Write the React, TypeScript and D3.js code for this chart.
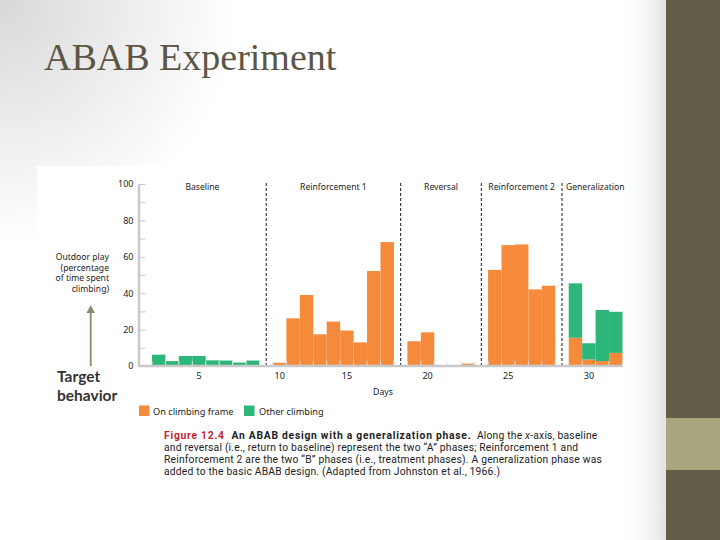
import React, { useEffect, useRef } from "react";
import * as d3 from "d3";

// --- Data, one value per day 1..32
const phaseNames = ["Baseline", "Reinforcement 1", "Reversal", "Reinforcement 2", "Generalization"];
const phaseStartDay = [1, 10, 19, 24, 29];
const onClimbingFrame = [
  0, 0, 0, 0, 0, 0, 0, 0, 0,
  1.8, 26.2, 39, 17.4, 24.4, 19.5, 13, 52.2, 68.1,
  13.6, 18.5, 0, 0, 1.3,
  52.8, 66.4, 66.8, 42.1, 44.1,
  15.5, 3.6, 2.7, 7.2,
];
const otherClimbing = [
  0, 6.2, 2.7, 5.5, 5.5, 3.1, 3, 1.9, 3,
  0, 0, 0, 0, 0, 0, 0, 0, 0,
  0, 0, 0, 0, 0,
  0, 0, 0, 0, 0,
  29.9, 8.9, 28.1, 22.6,
];
const dayTickLabels = [5, 10, 15, 20, 25, 30];
const yTicks = [0, 10, 20, 30, 40, 50, 60, 70, 80, 90, 100];
const yTickLabels = [0, 20, 40, 60, 80, 100];
const yLabelLines = ["Outdoor play", "(percentage", "of time spent", "climbing)"];
const captionLines = [
  "and reversal (i.e., return to baseline) represent the two \u201cA\u201d phases; Reinforcement 1 and",
  "Reinforcement 2 are the two \u201cB\u201d phases (i.e., treatment phases). A generalization phase was",
  "added to the basic ABAB design. (Adapted from Johnston et al., 1966.)",
];

const ORANGE = "#f58a3b";
const GREEN = "#2db67a";
const AXIS = "#c9c9c9";
const FONT = "'Noto Sans', 'Open Sans', sans-serif";
const CAPTION_FONT = "Roboto, 'Noto Sans', sans-serif";

const phaseOf = (day: number) => {
  let p = 0;
  phaseStartDay.forEach((s, i) => {
    if (day >= s) p = i;
  });
  return p;
};
// one empty slot is left between phases
const slotOf = (day: number) => day + phaseOf(day);

const App: React.FC = () => {
  const yAxisRef = useRef<SVGGElement | null>(null);

  const days = onClimbingFrame.map((_, i) => i + 1);
  const lastSlot = slotOf(days[days.length - 1]);

  const x = d3.scaleLinear().domain([0.5, lastSlot + 0.5]).range([138.5, 622.5]);
  const y = d3.scaleLinear().domain([0, 100]).range([366, 184]);
  const bw = x(1) - x(0);

  const boundaries = phaseStartDay.slice(1).map((d, i) => x(d + i));
  const edges = [x.range()[0], ...boundaries, x.range()[1]];

  const dayEdges = Array.from(
    new Set(days.flatMap((d) => [slotOf(d) - 0.5, slotOf(d) + 0.5]))
  );

  useEffect(() => {
    if (!yAxisRef.current) return;
    const g = d3.select(yAxisRef.current);
    g.selectAll("*").remove();
    g.call(
      d3
        .axisLeft(y)
        .tickValues(yTicks)
        .tickSizeInner(-7)
        .tickSizeOuter(0)
        .tickPadding(5)
        .tickFormat((d) => (yTickLabels.includes(d as number) ? String(d) : ""))
    );
    g.select(".domain").attr("stroke", AXIS).attr("stroke-width", 2.5);
    g.selectAll(".tick line").attr("stroke", AXIS).attr("stroke-width", 1);
    g.selectAll(".tick text")
      .attr("font-family", FONT)
      .attr("font-size", 9)
      .attr("fill", "#222");
  }, []);

  return (
    <svg
      width={720}
      height={540}
      style={{ position: "absolute", left: 0, top: 0 }}
    >
      <defs>
        <radialGradient id="bg" cx="0" cy="0" r="1" gradientUnits="objectBoundingBox"
          gradientTransform="scale(0.55,0.75)">
          <stop offset="0" stopColor="#d8d8d8" />
          <stop offset="0.6" stopColor="#ffffff" />
        </radialGradient>
        <linearGradient id="edge" x1="0" x2="1" y1="0" y2="0">
          <stop offset="0" stopColor="#ffffff" stopOpacity="0" />
          <stop offset="1" stopColor="#e2e2e2" />
        </linearGradient>
      </defs>

      {/* slide background */}
      <rect width={720} height={540} fill="#ffffff" />
      <rect width={720} height={540} fill="url(#bg)" />
      <rect x={622} width={44} height={540} fill="url(#edge)" />
      <rect x={666} width={54} height={540} fill="#635c46" />
      <rect x={666} y={418} width={54} height={52} fill="#a9a57e" />

      <text x={44} y={70} fontFamily="'Liberation Serif', serif" fontSize={38} fill="#5c5646">
        ABAB Experiment
      </text>

      {/* figure box */}
      <rect x={37} y={166} width={587} height={323} fill="#ffffff" />

      {/* bars */}
      <g>
        {days.map((d, i) => {
          const s = slotOf(d);
          const o = onClimbingFrame[i];
          const g = otherClimbing[i];
          return (
            <g key={d}>
              {o > 0 && (
                <rect x={x(s - 0.5)} width={bw} y={y(o)} height={y(0) - y(o)} fill={ORANGE} />
              )}
              {g > 0 && (
                <rect x={x(s - 0.5)} width={bw} y={y(o + g)} height={y(o) - y(o + g)} fill={GREEN} />
              )}
            </g>
          );
        })}
      </g>

      {/* day boundary ticks */}
      {dayEdges.map((e) => (
        <line key={e} x1={x(e)} x2={x(e)} y1={y(0)} y2={y(0) - 5} stroke="#e4e4e4" strokeWidth={1} />
      ))}

      {/* phase lines */}
      {boundaries.map((bx, i) => (
        <line key={i} x1={bx} x2={bx} y1={183} y2={y(0)} stroke="#1a1a1a" strokeWidth={1} strokeDasharray="3,2" />
      ))}

      {phaseNames.map((p, i) => (
        <text
          key={p}
          x={i === phaseNames.length - 1 ? (edges[i] + edges[i + 1]) / 2 + 3 : (edges[i] + edges[i + 1]) / 2}
          y={189.5}
          textAnchor="middle"
          fontFamily={FONT}
          fontSize={8.6}
          fill="#222"
        >
          {p}
        </text>
      ))}

      {/* x axis */}
      <line x1={x.range()[0]} x2={x.range()[1]} y1={y(0)} y2={y(0)} stroke={AXIS} strokeWidth={2.5} />
      {dayTickLabels.map((d) => (
        <text key={d} x={x(slotOf(d))} y={378.5} textAnchor="middle" fontFamily={FONT} fontSize={9} fill="#222">
          {d}
        </text>
      ))}
      <text x={383} y={395} textAnchor="middle" fontFamily={FONT} fontSize={8.8} fill="#222">
        Days
      </text>

      {/* y axis */}
      <g ref={yAxisRef} transform={`translate(${x.range()[0]},0)`} />

      {yLabelLines.map((l, i) => (
        <text key={l} x={109} y={260 + i * 10.5} textAnchor="end" fontFamily={FONT} fontSize={8.6} fill="#222">
          {l}
        </text>
      ))}

      {/* arrow */}
      <line x1={90.7} x2={90.7} y1={312} y2={366} stroke="#8c8a6b" strokeWidth={1.8} />
      <path d="M90.7,305 L86.5,313 L94.9,313 Z" fill="#8c8a6b" />
      <text fontFamily="Lato, 'Open Sans', sans-serif" fontWeight="bold" fontSize={15.5} fill="#333">
        <tspan x={57} y={382}>Target</tspan>
        <tspan x={57} y={401}>behavior</tspan>
      </text>

      {/* legend */}
      <rect x={139} y={405.5} width={10.5} height={10.5} fill={ORANGE} />
      <text x={153} y={414.5} fontFamily={FONT} fontSize={9.2} fill="#222">On climbing frame</text>
      <rect x={244} y={405.5} width={10.5} height={10.5} fill={GREEN} />
      <text x={259} y={414.5} fontFamily={FONT} fontSize={9.2} fill="#222">Other climbing</text>

      {/* caption */}
      <text x={164} y={438.5} fontFamily={CAPTION_FONT} fontSize={10.3} fill="#222">
        <tspan fill="#c2262f" fontWeight="bold" letterSpacing={0.75}>Figure 12.4</tspan>
        <tspan fontWeight="bold" letterSpacing={0.75}>{"\u00a0\u00a0An ABAB design with a generalization phase."}</tspan>
        <tspan letterSpacing={0.2}>{"\u00a0\u00a0Along the "}</tspan>
        <tspan fontStyle="italic" letterSpacing={0.2}>x</tspan>
        <tspan letterSpacing={0.2}>-axis, baseline</tspan>
      </text>
      {captionLines.map((l, i) => (
        <text key={i} x={164} y={450.5 + i * 12} fontFamily={CAPTION_FONT} fontSize={10.3} letterSpacing={0.2} fill="#222">
          {l}
        </text>
      ))}
    </svg>
  );
};

export default App;
